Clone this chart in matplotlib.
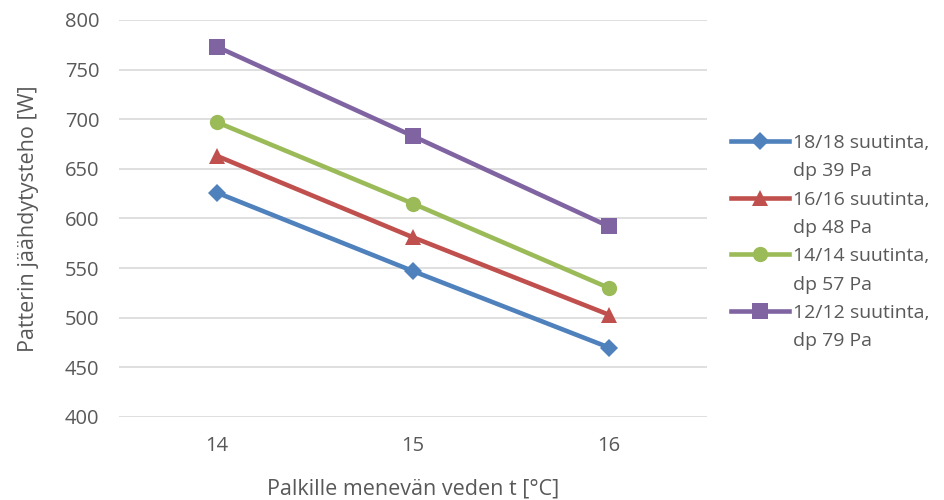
import numpy as np
import matplotlib
matplotlib.use("Agg")
import matplotlib.pyplot as plt
from matplotlib.lines import Line2D

plt.rcParams['font.family'] = ['Open Sans', 'DejaVu Sans']

temps = ["14", "15", "16"]
series_names = ["18/18 suutinta,", "16/16 suutinta,", "14/14 suutinta,", "12/12 suutinta,"]
series_dp = ["dp 39 Pa", "dp 48 Pa", "dp 57 Pa", "dp 79 Pa"]
power = [
    [626, 547, 470],
    [663, 581, 503],
    [697, 615, 530],
    [773, 683, 592],
]
colors = ["#4F81BD", "#C0504D", "#9BBB59", "#8064A2"]
markers = ["D", "^", "o", "s"]
msizes = [9, 11, 11, 11]

text_col = "#595959"

fig = plt.figure(figsize=(9.44, 5.0), dpi=100)
ax = fig.add_axes([119/944, 1 - 417/500, 588/944, 397/500])

x = np.arange(len(temps))
handles = []
labels = []
for vals, name, dp, c, m, ms in zip(power, series_names, series_dp, colors, markers, msizes):
    ln, = ax.plot(x, vals, color=c, lw=3.3, marker=m, ms=ms, markeredgewidth=0)
    handles.append(ln)
    labels.append(name)
    # second line of the legend label, no handle
    handles.append(Line2D([], [], color="none"))
    labels.append(dp)

ax.set_xlim(-0.5, 2.5)
ax.set_ylim(400, 800)
ax.set_yticks(np.arange(400, 801, 50))
ax.set_xticks(x)
ax.set_xticklabels(temps)
ax.grid(axis="y", color="#D9D9D9", lw=1.2)
ax.set_axisbelow(True)
for s in ax.spines.values():
    s.set_visible(False)
ax.tick_params(axis="both", length=0, labelsize=14.5, colors=text_col)
ax.tick_params(axis="y", pad=14)
ax.tick_params(axis="x", pad=14)

ax.set_xlabel("Palkille menevän veden t [°C]", fontsize=15.5, color=text_col, labelpad=16)
ax.set_ylabel("Patterin jäähdytysteho [W]", fontsize=15.5, color=text_col, labelpad=19)

fig.legend(handles, labels, loc="upper left", bbox_to_anchor=(731/944, 1 - 134/500),
           frameon=False, fontsize=14, labelcolor=text_col, handlelength=3.0,
           handletextpad=0.2, labelspacing=0.53, borderpad=0, borderaxespad=0)

fig.savefig("out.png", dpi=100)
